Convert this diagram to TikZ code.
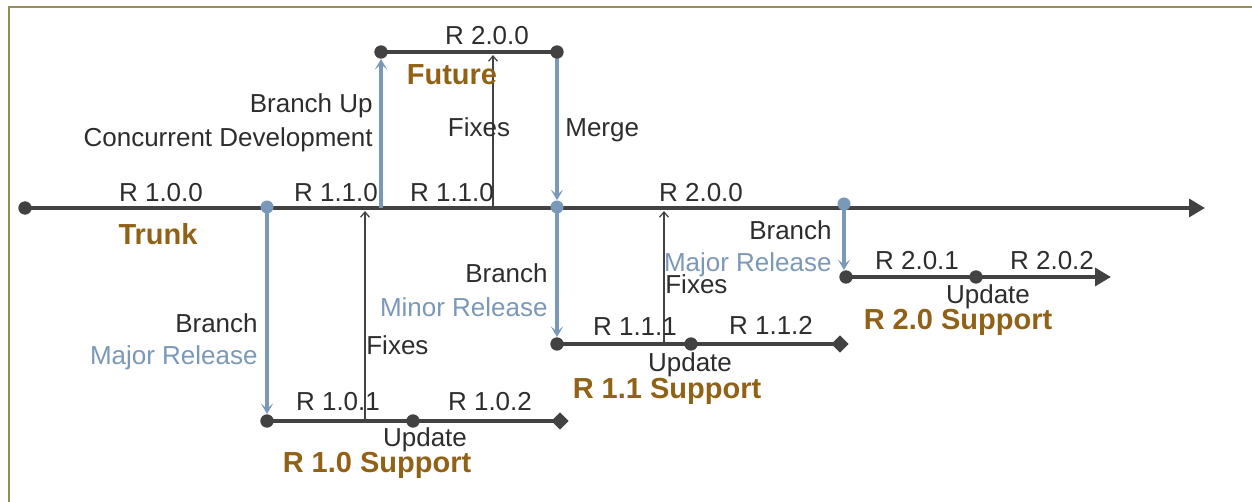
\documentclass[tikz,border=0pt]{standalone}
\usepackage{fontspec}
\setmainfont{Liberation Sans}
\usepackage{xcolor}
\usetikzlibrary{arrows.meta,positioning,shapes.geometric,backgrounds}
\definecolor{linegray}{RGB}{66,66,66}
\definecolor{textgray}{RGB}{45,45,45}
\definecolor{branchblue}{RGB}{122,152,184}
\definecolor{supbrown}{RGB}{145,98,22}
\definecolor{frameolive}{RGB}{152,140,86}

\begin{document}
\begin{tikzpicture}[
  x=0.02cm, y=-0.02cm,
  dot/.style={circle, fill=linegray, inner sep=0pt, minimum size=7.6pt},
  bdot/.style={circle, fill=branchblue, inner sep=0pt, minimum size=7.4pt},
  dia/.style={diamond, fill=linegray, inner sep=0pt, minimum size=10pt},
  trunkline/.style={linegray, line width=2.8pt, -{Triangle[length=9pt,width=10pt]}},
  supline/.style={linegray, line width=2.3pt},
  branchline/.style={branchblue, line width=2.5pt, -{Stealth[length=6pt,width=7pt,inset=3pt]}},
  fixline/.style={linegray, line width=0.7pt, -{Straight Barb[length=3pt,width=5pt]}},
  lbl/.style={font=\fontsize{14.8}{17}\selectfont, text=textgray, inner sep=0pt, anchor=base},
  blulbl/.style={lbl, text=branchblue},
  suplbl/.style={font=\fontsize{16.5}{19}\selectfont\bfseries, text=supbrown, inner sep=0pt, anchor=base}
]
\useasboundingbox (0,0) rectangle (1252,502);
\draw[frameolive, line width=1.3pt] (9,502) -- (9,7) -- (1252,7);

% trunk
\node[dot] (t0) at (25,208) {};
\coordinate (tend) at (1205,208);
\node[bdot] (b10) at (267,207) {};
\node[bdot] (mg) at (557,207) {};
\node[bdot] (b20) at (844,204) {};
\coordinate (bu) at (381,208);

% future
\node[dot] (fu0) at (381,52) {};
\node[dot] (fu1) at (557,52) {};

% support lines
\node[dot] (s10a) at (267,421) {};
\node[dot] (s10m) at (413,421) {};
\node[dia] (s10e) at (560,421) {};
\node[dot] (s11a) at (557,344) {};
\node[dot] (s11m) at (691,344) {};
\node[dia] (s11e) at (840,344) {};
\node[dot] (s20a) at (846,277) {};
\node[dot] (s20m) at (976,277) {};
\coordinate (s20e) at (1111,277);

% fixes
\coordinate (fx1a) at (365,421);
\coordinate (fx1b) at (365,211);
\coordinate (fx2a) at (493,208);
\coordinate (fx2b) at (493,55);
\coordinate (fx3a) at (664,344);
\coordinate (fx3b) at (664,211);

\begin{scope}[on background layer]
  \draw[trunkline] (t0.center) -- (tend);
  \draw[supline] (fu0.center) -- (fu1.center);
  \draw[supline] (s10a.center) -- (s10e.center);
  \draw[supline] (s11a.center) -- (s11e.center);
  \draw[trunkline, line width=2.3pt] (s20a.center) -- (s20e);
  \draw[branchline] (b10.center) -- (s10a.north);
  \draw[branchline] (bu) -- (fu0.south);
  \draw[branchline] (fu1.center) -- (mg.north);
  \draw[branchline] (mg.center) -- (s11a.north);
  \draw[branchline] (b20.center) -- (b20.center |- s20a.north);
  \draw[fixline] (fx1a) -- (fx1b);
  \draw[fixline] (fx2a) -- (fx2b);
  \draw[fixline] (fx3a) -- (fx3b);
\end{scope}

% trunk labels
\node[lbl] (r100) at (161,202) {R 1.0.0};
\node[suplbl] (trunk) at (158,245) {Trunk};
\node[lbl] (r110a) at (336,202) {R 1.1.0};
\node[lbl] (r110b) at (452,202) {R 1.1.0};
\node[lbl] (r200b) at (701,202) {R 2.0.0};

% future labels
\node[lbl, anchor=base east] (bup) at (373,113) {Branch Up};
\node[lbl, anchor=base east] (conc) at (373,147) {Concurrent Development};
\node[lbl] (r200a) at (487,45) {R 2.0.0};
\node[suplbl] (future) at (452,85) {Future};
\node[lbl] (fix2) at (479,137) {Fixes};
\node[lbl, anchor=base west] (merge) at (565,137) {Merge};

% R 1.0 support
\node[lbl, anchor=base east] (br1) at (258,333) {Branch};
\node[blulbl, anchor=base east] (maj1) at (258,365) {Major Release};
\node[lbl, anchor=base west] (fix1) at (366,355) {Fixes};
\node[lbl] (r101) at (338,411) {R 1.0.1};
\node[lbl] (r102) at (490,411) {R 1.0.2};
\node[lbl] (upd1) at (425,447) {Update};
\node[suplbl] (sup10) at (377,473) {R 1.0 Support};

% R 1.1 support
\node[lbl, anchor=base east] (br2) at (548,283) {Branch};
\node[blulbl, anchor=base east] (min2) at (548,317) {Minor Release};
\node[lbl, anchor=base west] (fix3) at (665,294) {Fixes};
\node[lbl] (r111) at (635,336) {R 1.1.1};
\node[lbl] (r112) at (771,335) {R 1.1.2};
\node[lbl] (upd2) at (690,372) {Update};
\node[suplbl] (sup11) at (667,399) {R 1.1 Support};

% R 2.0 support
\node[lbl, anchor=base east] (br3) at (832,240) {Branch};
\node[blulbl, anchor=base east] (maj3) at (832,272) {Major Release};
\node[lbl] (r201) at (917,270) {R 2.0.1};
\node[lbl] (r202) at (1052,270) {R 2.0.2};
\node[lbl] (upd3) at (988,304) {Update};
\node[suplbl] (sup20) at (958,330) {R 2.0 Support};
\end{tikzpicture}
\end{document}
